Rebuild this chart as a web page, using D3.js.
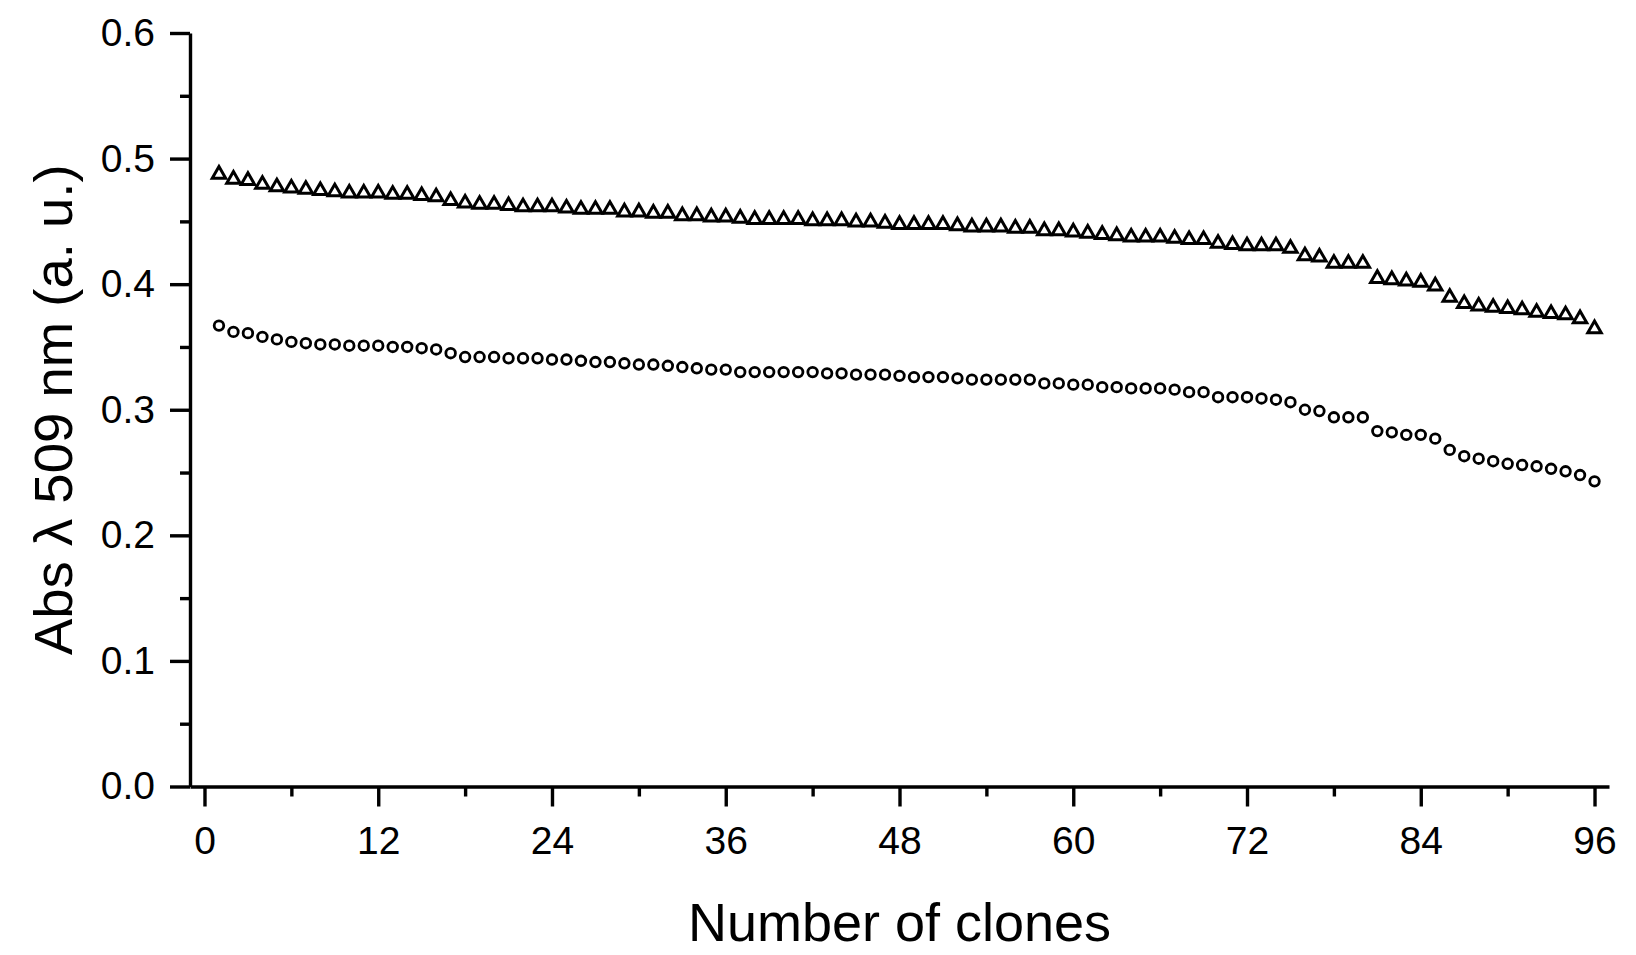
<!DOCTYPE html>
<html>
<head>
<meta charset="utf-8">
<script src="https://cdn.jsdelivr.net/npm/d3@7"></script>
<style>
  html, body { margin: 0; padding: 0; background: #ffffff; }
  svg { display: block; }
  text { font-family: Arial, "Liberation Sans", sans-serif; fill: #000; }
</style>
</head>
<body>
<div id="chart"></div>
<script>
// ---- data ----
const clones = d3.range(1, 97); // clone numbers 1..96

const seriesTriangle = [
  0.489, 0.485, 0.484, 0.481, 0.479, 0.478, 0.477, 0.476, 0.475, 0.474,
  0.474, 0.474, 0.473, 0.473, 0.472, 0.471, 0.468, 0.466, 0.465, 0.465,
  0.464, 0.463, 0.463, 0.463, 0.462, 0.461, 0.461, 0.461, 0.459, 0.459,
  0.458, 0.458, 0.456, 0.456, 0.455, 0.455, 0.454, 0.453, 0.453, 0.453,
  0.453, 0.452, 0.452, 0.452, 0.451, 0.451, 0.450, 0.449, 0.449, 0.449,
  0.449, 0.448, 0.447, 0.447, 0.447, 0.446, 0.446, 0.444, 0.444, 0.443,
  0.442, 0.441, 0.440, 0.439, 0.439, 0.439, 0.438, 0.437, 0.437, 0.434,
  0.433, 0.432, 0.432, 0.432, 0.430, 0.424, 0.423, 0.418, 0.418, 0.418,
  0.406, 0.405, 0.404, 0.403, 0.400, 0.391, 0.386, 0.384, 0.383, 0.382,
  0.381, 0.379, 0.378, 0.377, 0.374, 0.366
];

const seriesCircle = [
  0.367, 0.362, 0.361, 0.358, 0.356, 0.354, 0.353, 0.352, 0.352, 0.351,
  0.351, 0.351, 0.350, 0.350, 0.349, 0.348, 0.345, 0.342, 0.342, 0.342,
  0.341, 0.341, 0.341, 0.340, 0.340, 0.339, 0.338, 0.338, 0.337, 0.336,
  0.336, 0.335, 0.334, 0.333, 0.332, 0.332, 0.330, 0.330, 0.330, 0.330,
  0.330, 0.330, 0.329, 0.329, 0.328, 0.328, 0.328, 0.327, 0.326, 0.326,
  0.326, 0.325, 0.324, 0.324, 0.324, 0.324, 0.324, 0.321, 0.321, 0.320,
  0.320, 0.318, 0.318, 0.317, 0.317, 0.317, 0.316, 0.314, 0.314, 0.310,
  0.310, 0.310, 0.309, 0.308, 0.306, 0.300, 0.299, 0.294, 0.294, 0.294,
  0.283, 0.282, 0.280, 0.280, 0.277, 0.268, 0.263, 0.261, 0.259, 0.257,
  0.256, 0.255, 0.253, 0.251, 0.248, 0.243
];

const xTickValues = [0, 12, 24, 36, 48, 60, 72, 84, 96];
const xMinorValues = [6, 18, 30, 42, 54, 66, 78, 90];
const yTickValues = [0.0, 0.1, 0.2, 0.3, 0.4, 0.5, 0.6];
const yMinorValues = [0.05, 0.15, 0.25, 0.35, 0.45, 0.55];

const xTitle = "Number of clones";
const yTitle = "Abs \u03BB 509 nm (a. u.)";

// ---- layout ----
const W = 1636, H = 955;
const plotLeft = 190, plotRight = 1609, plotTop = 33, plotBottom = 786.5;

const svg = d3.select("#chart").append("svg")
  .attr("width", W).attr("height", H);

svg.append("rect").attr("width", W).attr("height", H).attr("fill", "#fff");

const x = d3.scaleLinear().domain([-1, 97]).range([plotLeft, plotRight]);
const y = d3.scaleLinear().domain([0, 0.6]).range([plotBottom, plotTop]);

const axisStroke = 3.4;
const tickFont = 39;

// X axis
const gx = svg.append("g").attr("transform", `translate(0,${plotBottom})`);
gx.call(d3.axisBottom(x).tickValues(xTickValues).tickSize(20).tickPadding(20)
  .tickSizeOuter(0).tickFormat(d3.format("d")));
gx.append("g").call(d3.axisBottom(x).tickValues(xMinorValues).tickSize(10)
  .tickSizeOuter(0).tickFormat(""))
  .select(".domain").remove();

// Y axis
const gy = svg.append("g").attr("transform", `translate(${plotLeft},0)`);
gy.call(d3.axisLeft(y).tickValues(yTickValues).tickSize(20).tickPadding(15)
  .tickSizeOuter(0).tickFormat(d3.format(".1f")));
gy.append("g").call(d3.axisLeft(y).tickValues(yMinorValues).tickSize(10)
  .tickSizeOuter(0).tickFormat(""))
  .select(".domain").remove();

svg.selectAll(".domain").attr("stroke", "#000").attr("stroke-width", axisStroke);
svg.selectAll(".tick line").attr("stroke", "#000").attr("stroke-width", axisStroke);
svg.selectAll(".tick text").attr("font-size", tickFont)
  .attr("font-family", 'Arial, "Liberation Sans", sans-serif').attr("fill", "#000");

// Axis titles
svg.append("text")
  .attr("x", (plotLeft + plotRight) / 2)
  .attr("y", 941)
  .attr("text-anchor", "middle")
  .attr("font-size", 54)
  .text(xTitle);

svg.append("text")
  .attr("transform", `translate(72,${(plotTop + plotBottom) / 2}) rotate(-90)`)
  .attr("text-anchor", "middle")
  .attr("font-size", 54.5)
  .text(yTitle);

// Custom triangle centred on its bounding box
const triBox = {
  draw(context, size) {
    const s = Math.sqrt(size * 4 / Math.sqrt(3));
    const h = s * Math.sqrt(3) / 2;
    context.moveTo(0, -h / 2);
    context.lineTo(s / 2, h / 2);
    context.lineTo(-s / 2, h / 2);
    context.closePath();
  }
};

const triData = clones.map((c, i) => ({ x: c, y: seriesTriangle[i] }));
const cirData = clones.map((c, i) => ({ x: c, y: seriesCircle[i] }));

svg.append("g").selectAll("path")
  .data(triData).join("path")
  .attr("transform", d => `translate(${x(d.x)},${y(d.y)})`)
  .attr("d", d3.symbol().type(triBox).size(78))
  .attr("fill", "#fff").attr("stroke", "#000").attr("stroke-width", 3)
  .attr("stroke-linejoin", "miter");

svg.append("g").selectAll("path")
  .data(cirData).join("path")
  .attr("transform", d => `translate(${x(d.x)},${y(d.y)})`)
  .attr("d", d3.symbol().type(d3.symbolCircle).size(72))
  .attr("fill", "#fff").attr("stroke", "#000").attr("stroke-width", 2.8);
</script>
</body>
</html>
